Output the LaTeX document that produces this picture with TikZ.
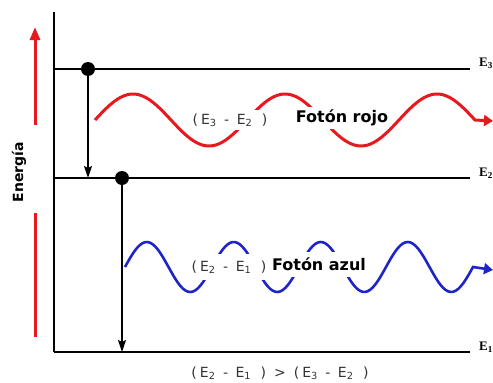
\documentclass[tikz,border=0pt]{standalone}
\usepackage{fontspec}
\setsansfont{DejaVu Sans}
\setmainfont{Liberation Serif}
\usetikzlibrary{arrows.meta}
\definecolor{fotonrojo}{HTML}{E8191E}
\definecolor{fotonazul}{HTML}{1E24C8}
\definecolor{lblgray}{HTML}{333333}

\newcommand{\difE}[2]{(\hspace{3pt}E\textsubscript{#1}\hspace{7.5pt}-\hspace{7.5pt}E\textsubscript{#2}\hspace{9.5pt})}

\begin{document}
\begin{tikzpicture}[
    x=1pt, y=-1pt,
    font=\sffamily,
    level/.style={
        line width=2.6pt,
        draw=black
    },
    levelname/.style={
        font=\rmfamily\bfseries\fontsize{13}{15}\selectfont,
        anchor=west,
        inner sep=0pt
    },
    electron/.style={
        circle,
        fill=black,
        minimum size=14pt,
        inner sep=0pt
    },
    transition/.style={
        -{Stealth[length=12pt,width=8pt,inset=2pt]},
        line width=1.6pt
    },
    energyarrow/.style={
        draw=fotonrojo,
        line width=3pt
    },
    wave/.style={
        draw=#1,
        line width=3pt,
        smooth,
        -{Triangle[length=9pt,width=11pt]}
    },
    difflabel/.style={
        fill=white,
        text=lblgray,
        font=\sffamily\fontsize{14}{16}\selectfont,
        inner xsep=1pt,
        inner ysep=0pt,
        minimum height=#1
    },
    photonlabel/.style={
        fill=white,
        font=\sffamily\fontsize{16}{18}\selectfont\bfseries,
        inner xsep=1pt,
        inner ysep=0pt,
        minimum height=#1
    }
]

\useasboundingbox (0,0) rectangle (493,383);

\coordinate (top) at (54,12);
\coordinate (e3w) at (54,69);
\coordinate (e3e) at (470,69);
\coordinate (e2w) at (54,178);
\coordinate (e2e) at (470,178);
\coordinate (e1w) at (54,352);
\coordinate (e1e) at (470,352);

\draw[level] (top) -- (e1w);
\draw[level] (e3w) -- (e3e);
\draw[level] (e2w) -- (e2e);
\draw[level] (e1w) -- (e1e);

\node[levelname] (n3) at (479,63) {E\textsubscript{3}};
\node[levelname] (n2) at (479,173) {E\textsubscript{2}};
\node[levelname] (n1) at (479,347) {E\textsubscript{1}};

% energy axis
\coordinate (ea0) at (35,125);
\coordinate (ea1) at (35,27);
\coordinate (eb0) at (35,213);
\coordinate (eb1) at (35,337);
\draw[energyarrow, -{Triangle[length=13pt,width=10pt]}] (ea0) -- (ea1);
\draw[energyarrow] (eb0) -- (eb1);
\node[rotate=90, font=\sffamily\fontsize{14}{16}\selectfont\bfseries] (energia) at (19,172) {Energía};

% electrons
\node[electron] (d3) at (88,69) {};
\node[electron] (d2) at (122,178) {};
\draw[transition] (d3) -- (d3 |- e2w);
\draw[transition] (d2) -- (d2 |- e1w);

% photons
\coordinate (rojofin) at (493,121);
\coordinate (azulfin) at (493,270);
\draw[wave=fotonrojo] plot[domain=95:475, samples=120]
    (\x,{120-26*sin((\x-95)/152*360)}) -- (rojofin);
\draw[wave=fotonazul, line width=2.6pt] plot[domain=125:473, samples=140]
    (\x,{267-25*sin((\x-125)/87*360)}) -- (azulfin);

\node[difflabel=20pt] (d32) at (230,120) {\difE{3}{2}};
\node[photonlabel=22pt] (rojo) at (342,118) {Fotón rojo};
\node[difflabel=26pt] (d21) at (229,267) {\difE{2}{1}};
\node[photonlabel=25pt] (azul) at (319,264) {Fotón azul};

\node[text=lblgray, font=\sffamily\fontsize{14}{16}\selectfont] (cmp) at (280,373)
{\difE{2}{1}\hspace{8pt}>\hspace{8pt}\difE{3}{2}};

\end{tikzpicture}
\end{document}
